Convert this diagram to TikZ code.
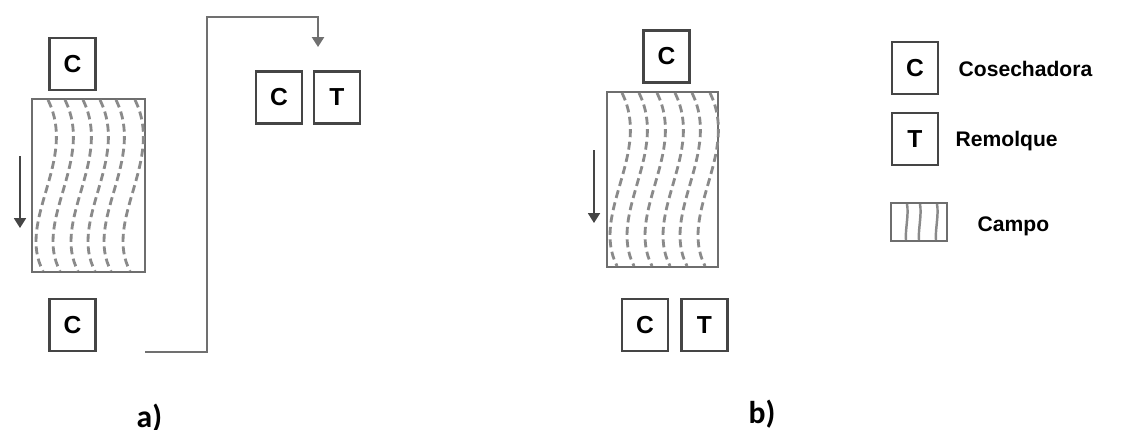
\documentclass[tikz,border=0pt]{standalone}
\usepackage{fontspec}
\setmainfont{Liberation Sans}
\newfontfamily\partfont{Carlito}
\usetikzlibrary{arrows.meta}

\definecolor{boxgray}{HTML}{454545}
\definecolor{fieldgray}{HTML}{6E6E6E}
\definecolor{hatchgray}{HTML}{8A8A8A}
\definecolor{routegray}{HTML}{707070}

\tikzset{
  unitbox/.style={draw=boxgray, line width=0.6pt, minimum width=0.46cm, minimum height=0.52cm,
    inner sep=0pt, font=\fontsize{7}{8}\selectfont\bfseries},
  fieldbox/.style={draw=fieldgray, line width=0.6pt},
  furrow/.style={draw=hatchgray, line width=0.8pt, dash pattern=on 0.8mm off 0.45mm},
  keyfurrow/.style={draw=hatchgray, line width=0.7pt},
  route/.style={draw=routegray, line width=0.6pt},
  movearrow/.style={draw=boxgray, line width=0.5pt, -{Triangle[width=3.4pt,length=2.8pt]}},
  legendtext/.style={anchor=base west, inner sep=0pt, font=\fontsize{6}{7}\selectfont\bfseries},
  partlabel/.style={anchor=base west, inner sep=0pt, font=\partfont\fontsize{9}{10}\selectfont\bfseries}
}

\begin{document}
\begin{tikzpicture}
  \useasboundingbox (0,0) rectangle (11.37,-4.30);

  % a) harvester alone, trailer waits outside
  \node[unitbox] (harvA) at (0.725,-0.64) {C};
  \draw[fieldbox] (0.32,-0.99) rectangle (1.45,-2.72);
  \foreach \x in {0.48,0.65,0.83,1.00,1.16,1.35}
    \draw[furrow] (\x,-1.00) .. controls (\x+0.30,-1.60) and (\x-0.32,-2.20) .. (\x-0.05,-2.71);
  \coordinate (moveAtop) at (0.20,-1.56);
  \coordinate (moveAbot) at (0.20,-2.28);
  \draw[movearrow] (moveAtop) -- (moveAbot);
  \node[unitbox] (harvAout) at (0.725,-3.25) {C};

  % route to unloading point
  \node[unitbox] (harvAunl) at (2.79,-0.975) {C};
  \node[unitbox] (trailA) at (3.37,-0.975) {T};
  \coordinate (routeA) at (1.45,-3.52);
  \coordinate (dropA) at (3.18,-0.47);
  \draw[route, -{Triangle[width=3.4pt,length=2.8pt]}] (routeA) -| (2.07,-0.17) -| (dropA);

  \node[partlabel] (labA) at (1.36,-4.27) {a)};

  % b) harvester followed by trailer
  \node[unitbox] (harvB) at (6.665,-0.565) {C};
  \draw[fieldbox] (6.07,-0.92) rectangle (7.18,-2.67);
  \foreach \x in {6.22,6.39,6.57,6.75,6.92,7.10}
    \draw[furrow] (\x,-0.93) .. controls (\x+0.30,-1.53) and (\x-0.32,-2.13) .. (\x-0.05,-2.66);
  \coordinate (moveBtop) at (5.94,-1.50);
  \coordinate (moveBbot) at (5.94,-2.23);
  \draw[movearrow] (moveBtop) -- (moveBbot);
  \node[unitbox] (harvBout) at (6.45,-3.25) {C};
  \node[unitbox] (trailB) at (7.045,-3.25) {T};

  \node[partlabel] (labB) at (7.48,-4.23) {b)};

  % legend
  \node[unitbox] (keyC) at (9.15,-0.68) {C};
  \node[legendtext] (keyCtext) at (9.58,-0.767) {Cosechadora};
  \node[unitbox] (keyT) at (9.15,-1.39) {T};
  \node[legendtext] (keyTtext) at (9.55,-1.467) {Remolque};
  \draw[fieldbox] (8.91,-2.03) rectangle (9.47,-2.41);
  \foreach \x in {9.07,9.20,9.37}
    \draw[keyfurrow] (\x,-2.04) .. controls (\x+0.02,-2.15) and (\x-0.02,-2.30) .. (\x-0.01,-2.40);
  \node[legendtext] (keyFtext) at (9.77,-2.317) {Campo};
\end{tikzpicture}
\end{document}
